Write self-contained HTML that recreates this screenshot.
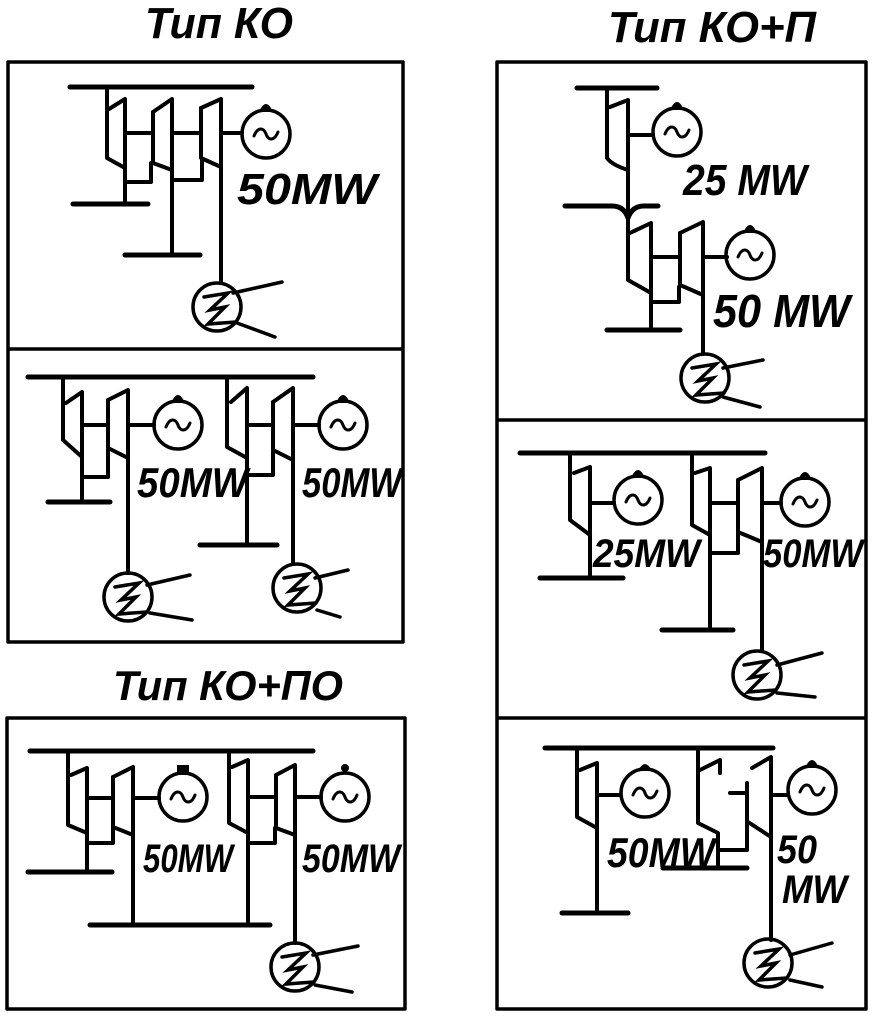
<!DOCTYPE html>
<html><head><meta charset="utf-8">
<style>
html,body{margin:0;padding:0;background:#fff;}
svg{display:block;}
.t{font-family:"Liberation Sans","DejaVu Sans",sans-serif;font-style:italic;font-weight:bold;fill:#000;}
</style></head>
<body>
<svg width="872" height="1016" viewBox="0 0 872 1016" xmlns="http://www.w3.org/2000/svg">
<!-- Titles -->
<text class="t" x="145" y="38" font-size="44" textLength="148" lengthAdjust="spacingAndGlyphs">Тип КО</text>
<text class="t" x="608" y="42" font-size="44" textLength="208" lengthAdjust="spacingAndGlyphs">Тип КО+П</text>
<text class="t" x="113" y="700" font-size="42" textLength="230" lengthAdjust="spacingAndGlyphs">Тип КО+ПО</text>

<g fill="none" stroke="#000" stroke-width="3.5" stroke-linejoin="round">
<!-- Boxes -->
<rect x="8" y="62" width="395" height="580"/>
<line x1="8" y1="349" x2="403" y2="349"/>
<rect x="7" y="718" width="398" height="291"/>
<rect x="497" y="62" width="369" height="947"/>
<line x1="497" y1="420" x2="866" y2="420"/>
<line x1="497" y1="718" x2="866" y2="718"/>
</g>

<g fill="none" stroke="#000" stroke-width="4" stroke-linejoin="round" stroke-linecap="round">
<!-- ===== Panel L1 ===== -->
<line x1="70" y1="87" x2="252" y2="87" stroke-width="5"/>
<path d="M107,87 V158 L125,168"/>
<path d="M109,109 L125,99 V202"/>
<line x1="73" y1="204" x2="148" y2="204" stroke-width="5"/>
<path d="M153,112 V163 L172,170"/>
<path d="M153,112 L172,99 V255"/>
<path d="M125,182 H151 V163"/>
<path d="M201,108 V158 L221,167"/>
<path d="M201,108 L221,99 V283"/>
<path d="M173,180 H202 V160"/>
<line x1="125" y1="255" x2="200" y2="255" stroke-width="5"/>
<path d="M125,133 H153 M172,133 H201 M221,133 H242"/>

<!-- ===== Panel L2 ===== -->
<line x1="28" y1="377" x2="313" y2="377" stroke-width="5"/>
<path d="M63,377 V440 L82,457"/>
<path d="M66,403 L82,392 V502"/>
<line x1="48" y1="502" x2="110" y2="502" stroke-width="5"/>
<path d="M108,400 V448 L128,458"/>
<path d="M108,400 L128,390 V573"/>
<path d="M83,477 H108 V450"/>
<path d="M82,425 H108 M128,425 H154"/>
<path d="M227,377 V447 L247,458"/>
<path d="M231,402 L247,388 V545"/>
<path d="M273,402 V450 L293,460"/>
<path d="M273,402 L293,388 V564"/>
<path d="M247,475 H273 V452"/>
<path d="M247,425 H273 M293,425 H319"/>
<line x1="200" y1="545" x2="277" y2="545" stroke-width="5"/>

<!-- ===== Panel L3 ===== -->
<line x1="30" y1="751" x2="313" y2="751" stroke-width="5"/>
<path d="M68,751 V825 L87,833"/>
<path d="M71,775 L87,768 V872"/>
<line x1="28" y1="872" x2="112" y2="872" stroke-width="5"/>
<path d="M113,777 V827 L133,835"/>
<path d="M113,777 L133,767 V925"/>
<path d="M87,843 H113 V828"/>
<path d="M87,798 H113 M133,798 H159"/>
<line x1="90" y1="925" x2="270" y2="925" stroke-width="5"/>
<path d="M229,751 V823 L248,833"/>
<path d="M232,767 L248,760 V925"/>
<path d="M276,775 V828 L295,835"/>
<path d="M276,775 L295,765 V943"/>
<path d="M248,843 H275 V828"/>
<path d="M248,797 H276 M295,797 H321"/>

<!-- ===== Panel R1 ===== -->
<line x1="577" y1="88" x2="657" y2="88" stroke-width="5"/>
<path d="M607,88 V158 Q612,165 628,170"/>
<path d="M610,107 L628,100 V280 L651,293"/>
<path d="M628,135 H653"/>
<path d="M565,206 H612 Q624,206 628,218 Q632,206 644,206 H658" stroke-width="5"/>
<path d="M630,233 L651,223 V330"/>
<path d="M680,233 V285 L703,295"/>
<path d="M680,233 L703,222 V354"/>
<path d="M651,302 H679 V287"/>
<path d="M651,257 H680 M703,257 H727"/>
<line x1="607" y1="330" x2="680" y2="330" stroke-width="5"/>

<!-- ===== Panel R2 ===== -->
<line x1="520" y1="453" x2="765" y2="453" stroke-width="5"/>
<path d="M570,453 V520 L590,535"/>
<path d="M574,473 L590,467 V578"/>
<path d="M590,503 H614"/>
<line x1="540" y1="578" x2="623" y2="578" stroke-width="5"/>
<path d="M692,453 V525 L710,535"/>
<path d="M695,473 L710,468 V630"/>
<path d="M738,480 V532 L762,542"/>
<path d="M738,480 L762,468 V651"/>
<path d="M710,553 H738 V532"/>
<path d="M710,503 H738 M762,503 H781"/>
<line x1="662" y1="630" x2="733" y2="630" stroke-width="5"/>

<!-- ===== Panel R3 ===== -->
<line x1="545" y1="748" x2="773" y2="748" stroke-width="5"/>
<path d="M577,748 V817 L597,828"/>
<path d="M580,770 L597,763 V913"/>
<path d="M597,795 H620"/>
<line x1="562" y1="913" x2="628" y2="913" stroke-width="5"/>
<path d="M698,748 V823 L718,833 V868"/>
<path d="M700,770 L720,760 V773"/>
<line x1="663" y1="868" x2="747" y2="868" stroke-width="5"/>
<path d="M730,793 H747 M747,783 V850 H720"/>
<path d="M752,768 L771,757 V940"/>
<path d="M748,822 L771,837"/>
<path d="M771,795 H788"/>
</g>

<!-- Generators -->
<g fill="none" stroke="#000" stroke-width="3.5">
<circle cx="266" cy="134" r="24"/>
<circle cx="178" cy="425" r="24"/>
<circle cx="343" cy="425" r="24"/>
<circle cx="183" cy="797" r="24"/>
<circle cx="345" cy="797" r="24"/>
<circle cx="677" cy="132" r="24"/>
<circle cx="750" cy="255" r="24"/>
<circle cx="638" cy="500" r="24"/>
<circle cx="805" cy="502" r="24"/>
<circle cx="645" cy="793" r="24"/>
<circle cx="812" cy="790" r="24"/>
</g>
<g fill="none" stroke="#000" stroke-width="3" stroke-linecap="round">
<path d="M254,136 C258,126 264,128 266,134 C268,140 274,142 278,132"/>
<path d="M166,427 C170,417 176,419 178,425 C180,431 186,433 190,423"/>
<path d="M331,427 C335,417 341,419 343,425 C345,431 351,433 355,423"/>
<path d="M171,799 C175,789 181,791 183,797 C185,803 191,805 195,795"/>
<path d="M333,799 C337,789 343,791 345,797 C347,803 353,805 357,795"/>
<path d="M665,134 C669,124 675,126 677,132 C679,138 685,140 689,130"/>
<path d="M738,257 C742,247 748,249 750,255 C752,261 758,263 762,253"/>
<path d="M626,502 C630,492 636,494 638,500 C640,506 646,508 650,498"/>
<path d="M793,504 C797,494 803,496 805,502 C807,508 813,510 817,500"/>
<path d="M633,795 C637,785 643,787 645,793 C647,799 653,801 657,791"/>
<path d="M800,792 C804,782 810,784 812,790 C814,796 820,798 824,788"/>
</g>
<!-- Generator top blobs -->
<g fill="#000">
<path d="M259,112 Q266,96 273,112 Z"/>
<path d="M171,403 Q178,387 185,403 Z"/>
<path d="M336,403 Q343,387 350,403 Z"/>
<path d="M177,775 L177,765 L189,765 L189,775 Z"/>
<circle cx="345" cy="768" r="4"/>
<path d="M670,110 Q677,94 684,110 Z"/>
<path d="M743,233 Q750,217 757,233 Z"/>
<path d="M631,478 Q638,462 645,478 Z"/>
<path d="M798,480 Q805,464 812,480 Z"/>
<path d="M638,771 Q645,757 652,771 Z"/>
<path d="M805,768 Q812,752 819,768 Z"/>
</g>

<!-- Condensers -->
<g fill="none" stroke="#000" stroke-width="3.5" stroke-linejoin="miter" stroke-linecap="round">
<circle cx="217" cy="307" r="24"/>
<path d="M204,297 L228,293 L210,310 L225,307 L208,324 L236,322"/>
<path d="M233,293 L282,282 M237,323 L275,337"/>

<circle cx="128" cy="597" r="24"/>
<path d="M115,587 L139,583 L121,600 L136,597 L119,614 L147,612"/>
<path d="M147,585 L190,575 M150,613 L192,620"/>

<circle cx="297" cy="588" r="24"/>
<path d="M284,578 L308,574 L290,591 L305,588 L288,605 L316,603"/>
<path d="M315,578 L348,570 M317,610 L340,617"/>

<circle cx="295" cy="967" r="24"/>
<path d="M282,957 L306,953 L288,970 L303,967 L286,984 L314,982"/>
<path d="M313,955 L358,946 M315,985 L352,992"/>

<circle cx="705" cy="378" r="24"/>
<path d="M692,368 L716,364 L698,381 L713,378 L696,395 L724,393"/>
<path d="M723,368 L763,360 M723,397 L760,407"/>

<circle cx="757" cy="675" r="24"/>
<path d="M744,665 L768,661 L750,678 L765,675 L748,692 L776,690"/>
<path d="M777,665 L822,653 M777,693 L815,697"/>

<circle cx="768" cy="963" r="24"/>
<path d="M755,953 L779,949 L761,966 L776,963 L759,980 L787,978"/>
<path d="M790,955 L832,943 M790,980 L822,987"/>
</g>

<!-- Labels -->
<text class="t" x="237" y="204" font-size="44" textLength="140" lengthAdjust="spacingAndGlyphs">50MW</text>
<text class="t" x="137" y="497" font-size="42" textLength="111" lengthAdjust="spacingAndGlyphs">50MW</text>
<text class="t" x="302" y="497" font-size="42" textLength="100" lengthAdjust="spacingAndGlyphs">50MW</text>
<text class="t" x="143" y="872" font-size="40" textLength="90" lengthAdjust="spacingAndGlyphs">50MW</text>
<text class="t" x="302" y="872" font-size="40" textLength="98" lengthAdjust="spacingAndGlyphs">50MW</text>
<text class="t" x="683" y="195" font-size="44" textLength="124" lengthAdjust="spacingAndGlyphs">25 MW</text>
<text class="t" x="713" y="327" font-size="46" textLength="137" lengthAdjust="spacingAndGlyphs">50 MW</text>
<text class="t" x="593" y="567" font-size="40" textLength="107" lengthAdjust="spacingAndGlyphs">25MW</text>
<text class="t" x="763" y="567" font-size="40" textLength="100" lengthAdjust="spacingAndGlyphs">50MW</text>
<text class="t" x="607" y="867" font-size="42" textLength="108" lengthAdjust="spacingAndGlyphs">50MW</text>
<text class="t" x="777" y="863" font-size="40" textLength="40" lengthAdjust="spacingAndGlyphs">50</text>
<text class="t" x="782" y="903" font-size="40" textLength="65" lengthAdjust="spacingAndGlyphs">MW</text>
</svg>
</body></html>
